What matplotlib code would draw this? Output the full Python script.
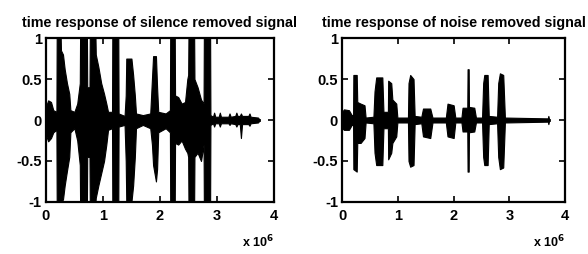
import matplotlib
matplotlib.use("Agg")
import matplotlib.pyplot as plt

plt.rcParams['font.family'] = ['Liberation Sans', 'DejaVu Sans']
plt.rcParams['font.weight'] = 'bold'

# envelope of the silence removed signal (time in units of 10^6 samples)
t_silence = [0.00, 0.01, 0.04, 0.09, 0.13, 0.185, 0.19, 0.26, 0.265, 0.30, 0.33, 0.37,
             0.41, 0.43, 0.50, 0.55, 0.595, 0.60, 0.72, 0.725, 0.765, 0.77, 0.87, 0.875,
             0.92, 0.97, 1.02, 1.06, 1.09, 1.16, 1.165, 1.27, 1.275, 1.38, 1.40, 1.41,
             1.50, 1.53, 1.56, 1.58, 1.70, 1.83, 1.86, 1.88, 1.93, 1.95, 1.97, 2.10,
             2.175, 2.18, 2.26, 2.265, 2.32, 2.38, 2.44, 2.48, 2.495, 2.50, 2.60, 2.605,
             2.66, 2.72, 2.765, 2.77, 2.88, 2.885, 2.93, 2.95, 2.97, 3.03, 3.05, 3.07,
             3.20, 3.22, 3.24, 3.32, 3.34, 3.36, 3.40, 3.42, 3.44, 3.55, 3.57, 3.59,
             3.72, 3.74]
up_silence = [0.03, 0.18, 0.24, 0.22, 0.12, 0.10, 1.00, 1.00, 0.85, 0.80, 0.62, 0.45,
              0.32, 0.12, 0.10, 0.20, 0.45, 1.00, 1.00, 0.40, 0.40, 1.00, 1.00, 0.80,
              0.65, 0.45, 0.32, 0.20, 0.10, 0.10, 1.00, 1.00, 0.08, 0.05, 0.30, 0.75,
              0.75, 0.55, 0.30, 0.08, 0.06, 0.08, 0.50, 0.78, 0.78, 0.40, 0.10, 0.08,
              0.12, 1.00, 1.00, 0.30, 0.28, 0.20, 0.22, 0.50, 0.55, 1.00, 1.00, 0.50,
              0.40, 0.25, 0.20, 1.00, 1.00, 0.06, 0.04, 0.09, 0.04, 0.04, 0.09, 0.04,
              0.04, 0.08, 0.04, 0.05, 0.09, 0.05, 0.05, 0.08, 0.05, 0.05, 0.08, 0.04,
              0.03, 0.01]
lo_silence = [-0.03, -0.20, -0.26, -0.22, -0.15, -0.12, -1.00, -1.00, -1.00, -0.97, -0.80, -0.62,
              -0.45, -0.15, -0.10, -0.25, -0.55, -1.00, -1.00, -0.45, -0.45, -1.00, -1.00, -0.95,
              -0.80, -0.65, -0.50, -0.30, -0.12, -0.10, -1.00, -1.00, -0.08, -0.06, -0.50, -1.00,
              -1.00, -0.80, -0.45, -0.10, -0.06, -0.10, -0.30, -0.55, -0.75, -0.60, -0.15, -0.10,
              -0.15, -1.00, -1.00, -0.28, -0.30, -0.25, -0.35, -0.40, -0.45, -1.00, -1.00, -0.45,
              -0.40, -0.50, -0.30, -1.00, -1.00, -0.06, -0.04, -0.08, -0.04, -0.04, -0.08, -0.04,
              -0.04, -0.06, -0.04, -0.05, -0.08, -0.05, -0.05, -0.22, -0.05, -0.05, -0.07, -0.04,
              -0.03, -0.01]

# envelope of the noise removed signal
t_noise = [0.00, 0.03, 0.12, 0.17, 0.195, 0.20, 0.26, 0.27, 0.33, 0.40, 0.42, 0.56,
           0.58, 0.61, 0.72, 0.74, 0.82, 0.825, 0.88, 0.90, 0.97, 0.99, 1.18, 1.19,
           1.22, 1.28, 1.30, 1.42, 1.45, 1.58, 1.62, 1.86, 1.89, 2.00, 2.03, 2.14,
           2.16, 2.245, 2.25, 2.27, 2.275, 2.37, 2.40, 2.51, 2.53, 2.55, 2.61, 2.63,
           2.78, 2.80, 2.83, 2.89, 2.92, 3.69, 3.70, 3.71]
up_noise = [0.10, 0.13, 0.12, 0.06, 0.06, 0.55, 0.55, 0.22, 0.20, 0.18, 0.03, 0.04,
            0.35, 0.52, 0.52, 0.10, 0.10, 0.48, 0.45, 0.25, 0.20, 0.03, 0.03, 0.45,
            0.55, 0.50, 0.05, 0.04, 0.14, 0.14, 0.03, 0.03, 0.20, 0.18, 0.03, 0.03,
            0.15, 0.15, 0.62, 0.62, 0.16, 0.15, 0.03, 0.03, 0.45, 0.55, 0.55, 0.05,
            0.04, 0.45, 0.57, 0.55, 0.03, 0.02, 0.05, 0.02]
lo_noise = [-0.10, -0.12, -0.12, -0.06, -0.06, -0.60, -0.63, -0.28, -0.28, -0.22, -0.03, -0.04,
            -0.40, -0.55, -0.55, -0.10, -0.10, -0.48, -0.40, -0.28, -0.20, -0.03, -0.03, -0.50,
            -0.57, -0.55, -0.05, -0.04, -0.20, -0.22, -0.03, -0.03, -0.20, -0.22, -0.03, -0.03,
            -0.14, -0.14, -0.63, -0.63, -0.15, -0.14, -0.03, -0.03, -0.45, -0.55, -0.55, -0.05,
            -0.04, -0.45, -0.60, -0.58, -0.03, -0.02, -0.05, -0.02]

titles = ["time response of silence removed signal", "time response of noise removed signal"]
x_ticks = [0, 1, 2, 3, 4]
y_ticks = [-1, -0.5, 0, 0.5, 1]
y_labels = ["-1", "-0.5", "0", "0.5", "1"]

#----------------------------------------------------------------------
def drawPanel(ax, t, up, lo, title):
    t_abs = [v * 1e6 for v in t]
    ax.fill_between(t_abs, lo, up, color="black", linewidth=0.8)
    ax.plot([t_abs[0], t_abs[-1]], [0, 0], color="black", linewidth=2)

    ax.set_xlim(0, 4e6)
    ax.set_ylim(-1, 1)
    ax.set_xticks([v * 1e6 for v in x_ticks])
    ax.set_xticklabels([str(v) for v in x_ticks])
    ax.set_yticks(y_ticks)
    ax.set_yticklabels(y_labels)
    ax.tick_params(direction="in", top=True, right=True, length=4, width=1.2,
                   labelsize=10.5, pad=3)
    ax.tick_params(axis="x", pad=5)
    for s in ax.spines.values():
        s.set_linewidth(1.6)
    ax.set_title(title, fontsize=10.3, fontweight="bold", pad=8)
    # exponent label below the x axis, right side
    ax.text(1.0, -0.245, "x 10$^{6}$", transform=ax.transAxes, ha="right", va="center",
            fontsize=9, fontweight="bold")

#----------------------------------------------------------------------
fig = plt.figure(figsize=(5.88, 2.54), dpi=100)
ax1 = fig.add_axes([0.078, 0.205, 0.388, 0.645])
ax2 = fig.add_axes([0.582, 0.205, 0.379, 0.645])

drawPanel(ax1, t_silence, up_silence, lo_silence, titles[0])
drawPanel(ax2, t_noise, up_noise, lo_noise, titles[1])

fig.savefig("out.png", dpi=100)
